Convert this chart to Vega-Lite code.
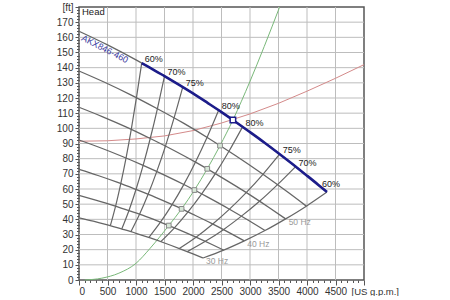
{
  "$schema": "https://vega.github.io/schema/vega-lite/v6.json",
  "width": 285,
  "height": 273,
  "padding": {"left": 5, "top": 2, "right": 5, "bottom": 0},
  "config": {
    "font": "Liberation Sans",
    "view": {"stroke": "#555555", "strokeWidth": 1.5},
    "axis": {"domain": false, "labelColor": "#333333", "labelFontSize": 10, "tickColor": "#555555"}
  },
  "datasets": {
    "grid": [
      {"g": "v500", "q": 500, "h": 0}, {"g": "v500", "q": 500, "h": 180},
      {"g": "v1000", "q": 1000, "h": 0}, {"g": "v1000", "q": 1000, "h": 180},
      {"g": "v1500", "q": 1500, "h": 0}, {"g": "v1500", "q": 1500, "h": 180},
      {"g": "v2000", "q": 2000, "h": 0}, {"g": "v2000", "q": 2000, "h": 180},
      {"g": "v2500", "q": 2500, "h": 0}, {"g": "v2500", "q": 2500, "h": 180},
      {"g": "v3000", "q": 3000, "h": 0}, {"g": "v3000", "q": 3000, "h": 180},
      {"g": "v3500", "q": 3500, "h": 0}, {"g": "v3500", "q": 3500, "h": 180},
      {"g": "v4000", "q": 4000, "h": 0}, {"g": "v4000", "q": 4000, "h": 180},
      {"g": "v4500", "q": 4500, "h": 0}, {"g": "v4500", "q": 4500, "h": 180},
      {"g": "h10", "q": 0, "h": 10}, {"g": "h10", "q": 5000, "h": 10},
      {"g": "h20", "q": 0, "h": 20}, {"g": "h20", "q": 5000, "h": 20},
      {"g": "h30", "q": 0, "h": 30}, {"g": "h30", "q": 5000, "h": 30},
      {"g": "h40", "q": 0, "h": 40}, {"g": "h40", "q": 5000, "h": 40},
      {"g": "h50", "q": 0, "h": 50}, {"g": "h50", "q": 5000, "h": 50},
      {"g": "h60", "q": 0, "h": 60}, {"g": "h60", "q": 5000, "h": 60},
      {"g": "h70", "q": 0, "h": 70}, {"g": "h70", "q": 5000, "h": 70},
      {"g": "h80", "q": 0, "h": 80}, {"g": "h80", "q": 5000, "h": 80},
      {"g": "h90", "q": 0, "h": 90}, {"g": "h90", "q": 5000, "h": 90},
      {"g": "h100", "q": 0, "h": 100}, {"g": "h100", "q": 5000, "h": 100},
      {"g": "h110", "q": 0, "h": 110}, {"g": "h110", "q": 5000, "h": 110},
      {"g": "h120", "q": 0, "h": 120}, {"g": "h120", "q": 5000, "h": 120},
      {"g": "h130", "q": 0, "h": 130}, {"g": "h130", "q": 5000, "h": 130},
      {"g": "h140", "q": 0, "h": 140}, {"g": "h140", "q": 5000, "h": 140},
      {"g": "h150", "q": 0, "h": 150}, {"g": "h150", "q": 5000, "h": 150},
      {"g": "h160", "q": 0, "h": 160}, {"g": "h160", "q": 5000, "h": 160},
      {"g": "h170", "q": 0, "h": 170}, {"g": "h170", "q": 5000, "h": 170}
    ],
    "speeds": [
      {"s": "60", "q": 0, "h": 164}, {"s": "60", "q": 500, "h": 155.0}, {"s": "60", "q": 1000, "h": 145.1}, {"s": "60", "q": 1500, "h": 134.4}, {"s": "60", "q": 2000, "h": 123.0}, {"s": "60", "q": 2500, "h": 110.7}, {"s": "60", "q": 3000, "h": 97.5}, {"s": "60", "q": 3500, "h": 83.6}, {"s": "60", "q": 4000, "h": 68.8}, {"s": "60", "q": 4350, "h": 58.0},
      {"s": "55", "q": 0, "h": 137.8}, {"s": "55", "q": 458, "h": 130.2}, {"s": "55", "q": 917, "h": 121.9}, {"s": "55", "q": 1375, "h": 112.9}, {"s": "55", "q": 1833, "h": 103.4}, {"s": "55", "q": 2292, "h": 93.0}, {"s": "55", "q": 2750, "h": 81.9}, {"s": "55", "q": 3208, "h": 70.2}, {"s": "55", "q": 3667, "h": 57.8}, {"s": "55", "q": 3988, "h": 48.7},
      {"s": "50", "q": 0, "h": 113.9}, {"s": "50", "q": 417, "h": 107.6}, {"s": "50", "q": 833, "h": 100.8}, {"s": "50", "q": 1250, "h": 93.3}, {"s": "50", "q": 1667, "h": 85.4}, {"s": "50", "q": 2083, "h": 76.9}, {"s": "50", "q": 2500, "h": 67.7}, {"s": "50", "q": 2917, "h": 58.1}, {"s": "50", "q": 3333, "h": 47.8}, {"s": "50", "q": 3625, "h": 40.3},
      {"s": "45", "q": 0, "h": 92.3}, {"s": "45", "q": 375, "h": 87.2}, {"s": "45", "q": 750, "h": 81.6}, {"s": "45", "q": 1125, "h": 75.6}, {"s": "45", "q": 1500, "h": 69.2}, {"s": "45", "q": 1875, "h": 62.3}, {"s": "45", "q": 2250, "h": 54.8}, {"s": "45", "q": 2625, "h": 47.0}, {"s": "45", "q": 3000, "h": 38.7}, {"s": "45", "q": 3263, "h": 32.6},
      {"s": "40", "q": 0, "h": 72.9}, {"s": "40", "q": 333, "h": 68.9}, {"s": "40", "q": 667, "h": 64.5}, {"s": "40", "q": 1000, "h": 59.7}, {"s": "40", "q": 1333, "h": 54.7}, {"s": "40", "q": 1667, "h": 49.2}, {"s": "40", "q": 2000, "h": 43.3}, {"s": "40", "q": 2333, "h": 37.2}, {"s": "40", "q": 2667, "h": 30.6}, {"s": "40", "q": 2900, "h": 25.8},
      {"s": "35", "q": 0, "h": 55.8}, {"s": "35", "q": 292, "h": 52.7}, {"s": "35", "q": 583, "h": 49.4}, {"s": "35", "q": 875, "h": 45.7}, {"s": "35", "q": 1167, "h": 41.9}, {"s": "35", "q": 1458, "h": 37.7}, {"s": "35", "q": 1750, "h": 33.2}, {"s": "35", "q": 2042, "h": 28.4}, {"s": "35", "q": 2333, "h": 23.4}, {"s": "35", "q": 2538, "h": 19.7},
      {"s": "30", "q": 0, "h": 41.0}, {"s": "30", "q": 250, "h": 38.8}, {"s": "30", "q": 500, "h": 36.3}, {"s": "30", "q": 750, "h": 33.6}, {"s": "30", "q": 1000, "h": 30.8}, {"s": "30", "q": 1250, "h": 27.7}, {"s": "30", "q": 1500, "h": 24.4}, {"s": "30", "q": 1750, "h": 20.9}, {"s": "30", "q": 2000, "h": 17.2}, {"s": "30", "q": 2175, "h": 14.5}
    ],
    "iso": [
      {"e": "60L", "q": 1100, "h": 143.0}, {"e": "60L", "q": 1008, "h": 120.2}, {"e": "60L", "q": 917, "h": 99.3}, {"e": "60L", "q": 825, "h": 80.4}, {"e": "60L", "q": 733, "h": 63.6}, {"e": "60L", "q": 642, "h": 48.7}, {"e": "60L", "q": 550, "h": 35.8},
      {"e": "70L", "q": 1500, "h": 134.4}, {"e": "70L", "q": 1375, "h": 112.9}, {"e": "70L", "q": 1250, "h": 93.3}, {"e": "70L", "q": 1125, "h": 75.6}, {"e": "70L", "q": 1000, "h": 59.7}, {"e": "70L", "q": 875, "h": 45.7}, {"e": "70L", "q": 750, "h": 33.6},
      {"e": "75L", "q": 1820, "h": 127.2}, {"e": "75L", "q": 1668, "h": 106.9}, {"e": "75L", "q": 1517, "h": 88.3}, {"e": "75L", "q": 1365, "h": 71.6}, {"e": "75L", "q": 1213, "h": 56.5}, {"e": "75L", "q": 1062, "h": 43.3}, {"e": "75L", "q": 910, "h": 31.8},
      {"e": "80L", "q": 2450, "h": 111.9}, {"e": "80L", "q": 2246, "h": 94.0}, {"e": "80L", "q": 2042, "h": 77.7}, {"e": "80L", "q": 1838, "h": 62.9}, {"e": "80L", "q": 1633, "h": 49.7}, {"e": "80L", "q": 1429, "h": 38.1}, {"e": "80L", "q": 1225, "h": 28.0},
      {"e": "80R", "q": 2870, "h": 101.0}, {"e": "80R", "q": 2631, "h": 84.9}, {"e": "80R", "q": 2392, "h": 70.1}, {"e": "80R", "q": 2153, "h": 56.8}, {"e": "80R", "q": 1913, "h": 44.9}, {"e": "80R", "q": 1674, "h": 34.4}, {"e": "80R", "q": 1435, "h": 25.3},
      {"e": "75R", "q": 3520, "h": 83.0}, {"e": "75R", "q": 3227, "h": 69.7}, {"e": "75R", "q": 2933, "h": 57.6}, {"e": "75R", "q": 2640, "h": 46.7}, {"e": "75R", "q": 2347, "h": 36.9}, {"e": "75R", "q": 2053, "h": 28.2}, {"e": "75R", "q": 1760, "h": 20.8},
      {"e": "70R", "q": 3800, "h": 74.8}, {"e": "70R", "q": 3483, "h": 62.9}, {"e": "70R", "q": 3167, "h": 51.9}, {"e": "70R", "q": 2850, "h": 42.1}, {"e": "70R", "q": 2533, "h": 33.2}, {"e": "70R", "q": 2217, "h": 25.5}, {"e": "70R", "q": 1900, "h": 18.7},
      {"e": "60R", "q": 4350, "h": 58.0}, {"e": "60R", "q": 3988, "h": 48.7}, {"e": "60R", "q": 3625, "h": 40.3}, {"e": "60R", "q": 3263, "h": 32.6}, {"e": "60R", "q": 2900, "h": 25.8}, {"e": "60R", "q": 2538, "h": 19.7}, {"e": "60R", "q": 2175, "h": 14.5}
    ],
    "blue": [
      {"q": 1100, "h": 143.0}, {"q": 1250, "h": 139.9}, {"q": 1500, "h": 134.4}, {"q": 1750, "h": 128.8}, {"q": 2000, "h": 123.0}, {"q": 2250, "h": 116.9}, {"q": 2500, "h": 110.7}, {"q": 2750, "h": 104.2}, {"q": 3000, "h": 97.5}, {"q": 3250, "h": 90.7}, {"q": 3500, "h": 83.6}, {"q": 3750, "h": 76.3}, {"q": 4000, "h": 68.8}, {"q": 4200, "h": 62.7}, {"q": 4350, "h": 58.0}
    ],
    "red": [
      {"q": 0, "h": 91.5}, {"q": 500, "h": 91.8}, {"q": 1000, "h": 93.0}, {"q": 1500, "h": 95.0}, {"q": 2000, "h": 98.5}, {"q": 2500, "h": 103.5}, {"q": 3000, "h": 109.5}, {"q": 3500, "h": 116.5}, {"q": 4000, "h": 124.5}, {"q": 4500, "h": 133.0}, {"q": 5000, "h": 142.0}
    ],
    "green": [
      {"q": 100, "h": 0}, {"q": 400, "h": 1.2}, {"q": 700, "h": 4.5}, {"q": 1000, "h": 11.0}, {"q": 1250, "h": 21.0}, {"q": 1575, "h": 35.9}, {"q": 1800, "h": 46.9}, {"q": 2025, "h": 59.3}, {"q": 2250, "h": 73.3}, {"q": 2474, "h": 88.6}, {"q": 2700, "h": 105.5}, {"q": 3000, "h": 131.0}, {"q": 3250, "h": 154.0}, {"q": 3520, "h": 180.0}
    ],
    "sq": [
      {"q": 2474, "h": 88.6}, {"q": 2250, "h": 73.3}, {"q": 2025, "h": 59.3}, {"q": 1800, "h": 46.9}, {"q": 1575, "h": 35.9}
    ],
    "duty": [{"q": 2700, "h": 105.5}],
    "hz": [
      {"t": "50 Hz", "q": 3625, "h": 40.3}, {"t": "40 Hz", "q": 2900, "h": 25.8}, {"t": "30 Hz", "q": 2175, "h": 14.5}
    ],
    "pct": [
      {"t": "60%", "q": 1100, "h": 143.0}, {"t": "70%", "q": 1500, "h": 134.4}, {"t": "75%", "q": 1820, "h": 127.2}, {"t": "80%", "q": 2450, "h": 111.9}, {"t": "80%", "q": 2870, "h": 101.0}, {"t": "75%", "q": 3520, "h": 83.0}, {"t": "70%", "q": 3800, "h": 74.8}
    ],
    "pctEnd": [{"t": "60%", "q": 4350, "h": 58.0}],
    "name": [{"t": "AKX846-460", "q": 455, "h": 152.3}],
    "head": [{"t": "Head", "q": 0, "h": 180}]
  },
  "encoding": {
    "x": {"field": "q", "type": "quantitative", "scale": {"domain": [0, 5000], "nice": false},
      "axis": {"values": [0,100,200,300,400,500,600,700,800,900,1000,1100,1200,1300,1400,1500,1600,1700,1800,1900,2000,2100,2200,2300,2400,2500,2600,2700,2800,2900,3000,3100,3200,3300,3400,3500,3600,3700,3800,3900,4000,4100,4200,4300,4400,4500,4600,4700,4800,4900,5000],
        "format": "d",
        "labelExpr": "(datum.value % 500 == 0 && datum.value < 5000) ? datum.label : ''",
        "labelOverlap": false, "labelBound": false,
        "grid": false,
        "tickSize": {"condition": {"test": "datum.value % 500 == 0", "value": 5}, "value": 2.5},
        "labelPadding": 1,
        "title": "[US g.p.m.]", "titleX": 272, "titleY": 6, "titleAlign": "left", "titleBaseline": "top", "titleFontWeight": "normal", "titleFontSize": 9.5, "titleColor": "#333333"}},
    "y": {"field": "h", "type": "quantitative", "scale": {"domain": [0, 180], "nice": false},
      "axis": {"values": [0,2,4,6,8,10,12,14,16,18,20,22,24,26,28,30,32,34,36,38,40,42,44,46,48,50,52,54,56,58,60,62,64,66,68,70,72,74,76,78,80,82,84,86,88,90,92,94,96,98,100,102,104,106,108,110,112,114,116,118,120,122,124,126,128,130,132,134,136,138,140,142,144,146,148,150,152,154,156,158,160,162,164,166,168,170,172,174,176,178,180],
        "format": "d",
        "labelExpr": "datum.value == 180 ? '[ft]' : (datum.value % 10 == 0 ? datum.label : '')",
        "labelOverlap": false, "labelBound": false,
        "grid": false,
        "tickSize": {"condition": {"test": "datum.value % 10 == 0", "value": 4}, "value": 2.5},
        "labelPadding": 2, "minExtent": 74, "maxExtent": 74, "title": null}}
  },
  "layer": [
    {"data": {"name": "grid"}, "mark": {"type": "line", "color": "#bdbdbd", "strokeWidth": 1}, "encoding": {"detail": {"field": "g"}}},
    {"data": {"name": "red"}, "mark": {"type": "line", "color": "#d48a8a", "strokeWidth": 1}},
    {"data": {"name": "green"}, "mark": {"type": "line", "color": "#79b879", "strokeWidth": 1, "interpolate": "monotone"}},
    {"data": {"name": "speeds"}, "mark": {"type": "line", "color": "#666666", "strokeWidth": 1.3, "interpolate": "monotone"}, "encoding": {"detail": {"field": "s"}}},
    {"data": {"name": "iso"}, "mark": {"type": "line", "color": "#666666", "strokeWidth": 1.2, "interpolate": "monotone"}, "encoding": {"detail": {"field": "e"}}},
    {"data": {"name": "blue"}, "mark": {"type": "line", "color": "#1c1c8a", "strokeWidth": 2.6, "interpolate": "monotone"}},
    {"data": {"name": "sq"}, "mark": {"type": "point", "shape": "square", "size": 22, "filled": true, "fill": "#d8e8d8", "stroke": "#888888", "strokeWidth": 1, "opacity": 1}},
    {"data": {"name": "duty"}, "mark": {"type": "point", "shape": "square", "size": 30, "filled": true, "fill": "#ffffff", "stroke": "#1c1c8a", "strokeWidth": 1.5, "opacity": 1}},
    {"data": {"name": "hz"}, "mark": {"type": "text", "align": "left", "baseline": "middle", "dx": 3, "dy": 3, "fontSize": 8.5, "color": "#9a9a9a"}, "encoding": {"text": {"field": "t"}}},
    {"data": {"name": "pct"}, "mark": {"type": "text", "align": "left", "baseline": "middle", "dx": 3, "dy": -4, "fontSize": 9, "color": "#222222"}, "encoding": {"text": {"field": "t"}}},
    {"data": {"name": "pctEnd"}, "mark": {"type": "text", "align": "left", "baseline": "middle", "dx": -5, "dy": -8, "fontSize": 9, "color": "#222222"}, "encoding": {"text": {"field": "t"}}},
    {"data": {"name": "name"}, "mark": {"type": "text", "align": "center", "baseline": "middle", "angle": 27, "fontSize": 9, "color": "#3a3aa0"}, "encoding": {"text": {"field": "t"}}},
    {"data": {"name": "head"}, "mark": {"type": "text", "align": "left", "baseline": "middle", "dx": 3, "dy": 5, "fontSize": 9.5, "color": "#222222"}, "encoding": {"text": {"field": "t"}}}
  ]
}
